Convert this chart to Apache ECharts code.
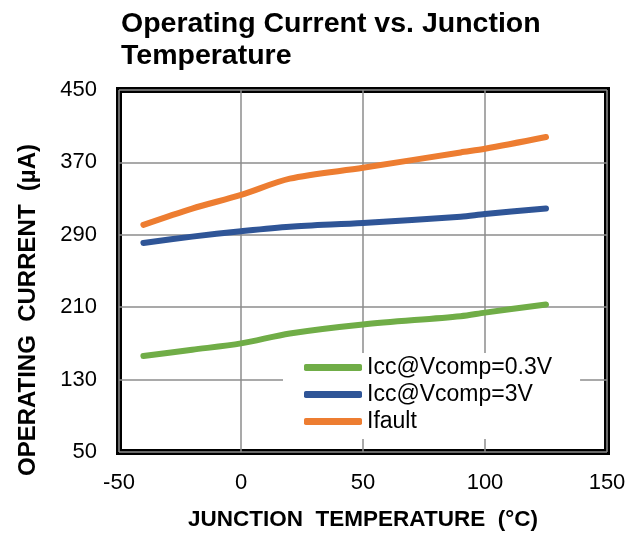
<!DOCTYPE html>
<html>
<head>
<meta charset="utf-8">
<script src="https://cdn.jsdelivr.net/npm/echarts@6/dist/echarts.min.js"></script>
<style>html,body{margin:0;padding:0;background:#fff}#c{width:641px;height:536px}</style>
</head>
<body>
<div id="c"></div>
<script>
// Data
const seriesNames = ['Icc@Vcomp=0.3V', 'Icc@Vcomp=3V', 'Ifault'];
const tempGreen = [-40, -20, 0, 20, 50, 90, 100, 125];
const valGreen  = [156, 163, 170, 181, 191, 200, 204, 213];
const tempBlue  = [-40, -20, 0, 20, 50, 90, 100, 125];
const valBlue   = [281, 288, 294, 299, 303, 310, 313, 319];
const tempOrange = [-40, -20, 0, 20, 50, 90, 100, 125];
const valOrange  = [301, 319, 334, 352, 364, 381, 385, 398];
const xTicks = [-50, 0, 50, 100, 150];
const yTicks = [50, 130, 210, 290, 370, 450];

const colors = ['#70ad47', '#2f5597', '#ed7d31'];
const pairs = (xs, ys) => xs.map((x, i) => [x, ys[i]]);
const FONT = 'Liberation Sans, Arial, sans-serif';

const chart = echarts.init(document.getElementById('c'), null, {renderer: 'canvas'});
chart.setOption({
  animation: false,
  title: {
    text: 'Operating Current vs. Junction\nTemperature',
    left: 116, top: 3,
    textStyle: {fontFamily: FONT, fontSize: 28.5, fontWeight: 'bold', color: '#000', lineHeight: 32}
  },
  grid: {left: 119, right: 34, top: 90, bottom: 83, show: true, borderColor: '#000', borderWidth: 6, backgroundColor: 'transparent'},
  xAxis: {
    type: 'value', min: xTicks[0], max: xTicks[xTicks.length - 1], interval: 50,
    axisLine: {show: false}, axisTick: {show: false},
    splitLine: {show: true, lineStyle: {color: '#8c8c8c', width: 1.5}},
    axisLabel: {fontFamily: FONT, fontSize: 22, color: '#000', margin: 20},
    name: 'JUNCTION  TEMPERATURE  (°C)', nameLocation: 'middle', nameGap: 56,
    nameTextStyle: {fontFamily: FONT, fontSize: 22.5, fontWeight: 'bold', color: '#000'}
  },
  yAxis: {
    type: 'value', min: yTicks[0], max: yTicks[yTicks.length - 1], interval: 80,
    axisLine: {show: false}, axisTick: {show: false},
    splitLine: {show: true, lineStyle: {color: '#8c8c8c', width: 1.5}},
    axisLabel: {fontFamily: FONT, fontSize: 22, color: '#000', margin: 22}
  },
  graphic: [{
    type: 'text', x: 28, y: 310, rotation: Math.PI / 2,
    style: {text: 'OPERATING  CURRENT  (µA)', fontFamily: FONT, fontSize: 24, fontWeight: 'bold', fill: '#000', align: 'center', verticalAlign: 'middle'}
  }],
  legend: {
    orient: 'vertical', left: 283, top: 353,
    data: seriesNames,
    icon: 'roundRect', itemWidth: 58, itemHeight: 7, itemGap: 4,
    padding: [3, 28, 6, 21], backgroundColor: '#fff',
    textStyle: {fontFamily: FONT, fontSize: 23, color: '#000'}
  },
  series: [
    {name: seriesNames[0], type: 'line', data: pairs(tempGreen, valGreen)},
    {name: seriesNames[1], type: 'line', data: pairs(tempBlue, valBlue)},
    {name: seriesNames[2], type: 'line', data: pairs(tempOrange, valOrange)}
  ].map((s, i) => Object.assign(s, {
    smooth: 0.3, showSymbol: false, color: colors[i],
    lineStyle: {width: 6, cap: 'round', join: 'round', color: colors[i]}
  }))
});
</script>
</body>
</html>
